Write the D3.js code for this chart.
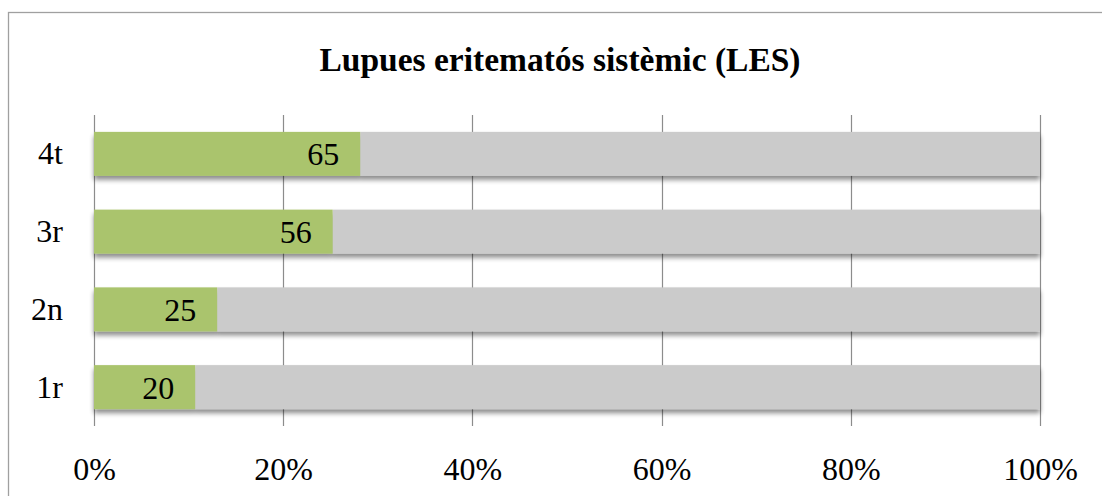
<!DOCTYPE html>
<html>
<head>
<meta charset="utf-8">
<script src="https://cdn.jsdelivr.net/npm/d3@7"></script>
<style>
  body { margin: 0; background: #fff; }
  svg { display: block; }
</style>
</head>
<body>
<div id="chart"></div>
<script>
// data
const categories = ["1r", "2n", "3r", "4t"];
const yesValues = [20, 25, 56, 65];
const noValues = [167, 167, 166, 166];
const xTicks = [0, 0.2, 0.4, 0.6, 0.8, 1];
const title = "Lupues eritematós sistèmic (LES)";

const width = 1102, height = 496;
const plot = { left: 94, right: 1040, top: 115, bottom: 426 };
const font = "'Liberation Serif', 'Times New Roman', serif";

const rows = categories.map((c, i) => ({ cat: c, yes: yesValues[i], no: noValues[i] }));
const stacked = d3.stack().keys(["yes", "no"]).offset(d3.stackOffsetExpand)(rows);

const svg = d3.select("#chart").append("svg")
  .attr("width", width)
  .attr("height", height);

// soft shadow under the bars
const defs = svg.append("defs");
const shadow = defs.append("filter").attr("id", "shadow")
  .attr("x", "-5%").attr("y", "-20%").attr("width", "110%").attr("height", "160%");
shadow.append("feGaussianBlur").attr("in", "SourceAlpha").attr("stdDeviation", 2.5);
shadow.append("feOffset").attr("dx", 0).attr("dy", 4).attr("result", "off");
shadow.append("feComponentTransfer").append("feFuncA").attr("type", "linear").attr("slope", 0.45);
const merge = shadow.append("feMerge");
merge.append("feMergeNode");
merge.append("feMergeNode").attr("in", "SourceGraphic");

// chart border
svg.append("rect")
  .attr("x", 8.5).attr("y", 12.5)
  .attr("width", width + 20).attr("height", height + 20)
  .attr("fill", "none").attr("stroke", "#a0a0a0").attr("stroke-width", 1.3);

const x = d3.scaleLinear().domain([0, 1]).range([plot.left, plot.right]);
const y = d3.scaleBand()
  .domain(categories.slice().reverse())
  .range([plot.top, plot.bottom])
  .paddingInner(0.434)
  .paddingOuter(0.217);

// title
svg.append("text")
  .attr("x", 560).attr("y", 71)
  .attr("text-anchor", "middle")
  .attr("font-family", font)
  .attr("font-weight", "bold")
  .attr("font-size", 33.5)
  .attr("fill", "#000")
  .text(title);

// gridlines
svg.append("g")
  .selectAll("line")
  .data(xTicks)
  .join("line")
  .attr("x1", d => Math.round(x(d)) + 0.5)
  .attr("x2", d => Math.round(x(d)) + 0.5)
  .attr("y1", plot.top)
  .attr("y2", plot.bottom)
  .attr("stroke", "#8c8c8c")
  .attr("stroke-width", 1.2);

// x axis labels
const xAxis = svg.append("g")
  .attr("transform", `translate(0,${plot.bottom})`)
  .call(d3.axisBottom(x).tickValues(xTicks).tickFormat(d3.format(".0%")).tickSize(0).tickPadding(0));
xAxis.select(".domain").remove();
xAxis.selectAll("text")
  .attr("y", 54)
  .attr("dy", 0)
  .attr("font-family", font)
  .attr("font-size", 32)
  .attr("fill", "#000");

// y axis labels
const yAxis = svg.append("g")
  .attr("transform", `translate(${plot.left},0)`)
  .call(d3.axisLeft(y).tickSize(0).tickPadding(31));
yAxis.select(".domain").remove();
yAxis.selectAll("text")
  .attr("dy", "0.33em")
  .attr("font-family", font)
  .attr("font-size", 32)
  .attr("fill", "#000");

// bars
const colors = { yes: "#aac46d", no: "#cbcbcb" };
const barGroup = svg.append("g").attr("filter", "url(#shadow)");
barGroup.selectAll("g")
  .data(stacked.slice().reverse())
  .join("g")
  .attr("fill", s => colors[s.key])
  .selectAll("rect")
  .data(s => s)
  .join("rect")
  .attr("x", d => x(d[0]))
  .attr("y", d => y(d.data.cat))
  .attr("width", d => x(d[1]) - x(d[0]))
  .attr("height", y.bandwidth());

// value labels inside the green segments
svg.append("g")
  .selectAll("text")
  .data(stacked[0])
  .join("text")
  .attr("x", d => x(d[1]) - 21)
  .attr("y", d => y(d.data.cat) + y.bandwidth() / 2)
  .attr("dy", "0.36em")
  .attr("text-anchor", "end")
  .attr("font-family", font)
  .attr("font-size", 32)
  .attr("fill", "#000")
  .text(d => d.data.yes);
</script>
</body>
</html>
